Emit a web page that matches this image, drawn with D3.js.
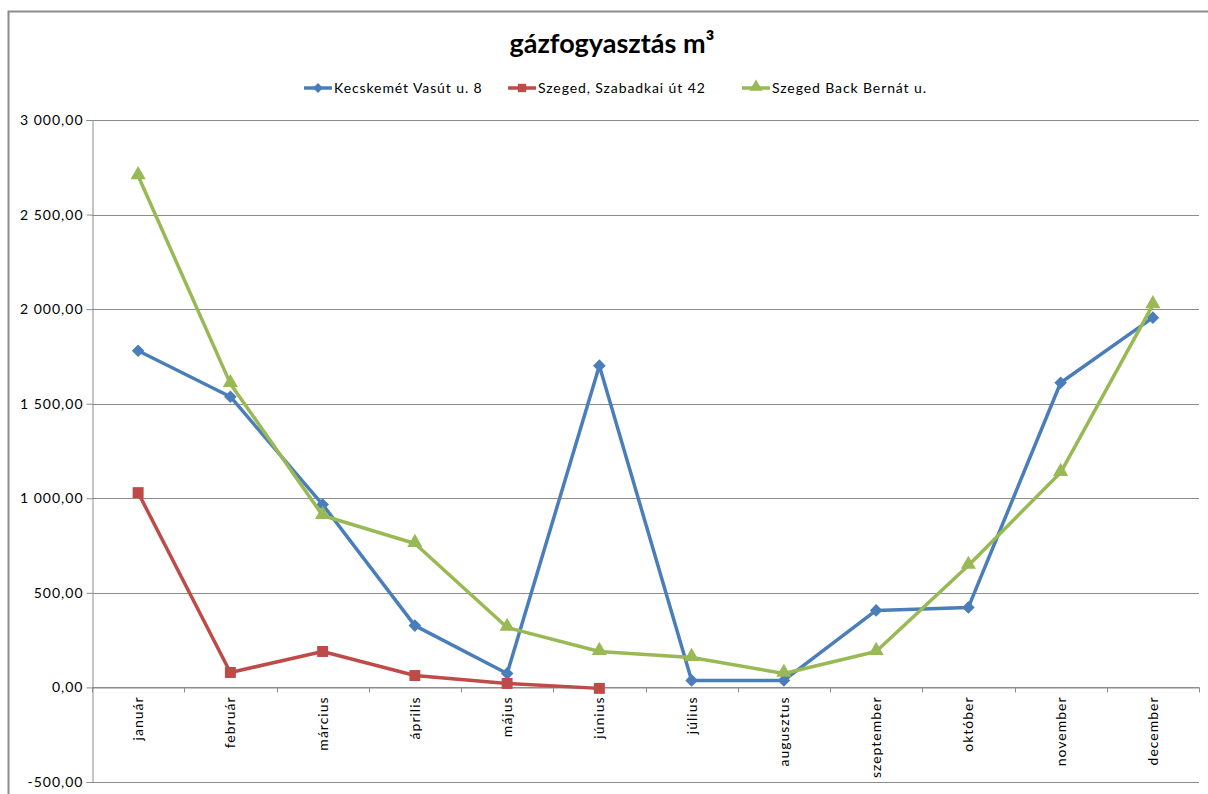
<!DOCTYPE html>
<html><head><meta charset="utf-8">
<script src="https://cdn.jsdelivr.net/npm/d3@7/dist/d3.min.js"></script>
<style>body{margin:0;background:#fff}svg{display:block}</style>
</head><body>
<script>
const months = ["január","február","március","április","május","június","július","augusztus","szeptember","október","november","december"];
const kecskemet = [1780,1537,967,327,74,1701,37,37,407,423,1611,1955];
const szabadkai = [1030,79,190,63,21,-5];
const backBernat = [2705,1606,909,761,317,190,158,74,190,645,1136,2023];
const yTicks = [-500,0,500,1000,1500,2000,2500,3000];
const seriesNames = ["Kecskemét Vasút u. 8","Szeged, Szabadkai út 42","Szeged Back Bernát u."];
const colors = ["#4a7ebb","#be4b48","#98b954"];

(function(){
const W=1208,H=794;
const svg=d3.select("body").append("svg").attr("width",W).attr("height",H);
const font="Lato, 'Open Sans', sans-serif";
svg.append("path").attr("d",`M8.5,${H} V11.5 H${W}`).attr("fill","none").attr("stroke","#8c8c8c").attr("stroke-width",2);

const pl=92,pr=1199,pt=120,pb=782;
const x=d3.scaleBand().domain(months).range([pl,pr]);
const y=d3.scaleLinear().domain([-500,3000]).range([pb,pt]);

const markers=[
  {type:d3.symbolSquare,size:80,rot:45,dy:0},
  {type:d3.symbolSquare,size:120,rot:0,dy:0},
  {type:d3.symbolTriangle,size:100,rot:0,dy:-1}
];
const legMarkers=[
  {type:d3.symbolSquare,size:50,rot:45,dy:0},
  {type:d3.symbolSquare,size:70,rot:0,dy:0},
  {type:d3.symbolTriangle,size:75,rot:0,dy:-1}
];

svg.append("g").selectAll("line").data(yTicks).join("line")
 .attr("x1",pl).attr("x2",pr).attr("y1",d=>Math.round(y(d))+0.5).attr("y2",d=>Math.round(y(d))+0.5)
 .attr("stroke","#8c8c8c").attr("stroke-width",1);

const yAx=svg.append("g").attr("transform",`translate(${pl+0.5},0)`)
 .call(d3.axisLeft(y).tickValues(yTicks).tickSize(6).tickPadding(3)
   .tickFormat(d=>d3.format(",.2f")(d).replace(/,/g," ").replace(".",",").replace("−","-")));
yAx.select(".domain").attr("stroke","#8c8c8c");
yAx.selectAll(".tick line").attr("stroke","#8c8c8c");
yAx.selectAll(".tick text").attr("font-family",font).attr("font-size",14).attr("letter-spacing",1).attr("fill","#000");

const xAx=svg.append("g").attr("transform",`translate(0,${Math.round(y(0))+0.5})`)
 .call(d3.axisBottom(x).tickSize(0).tickFormat(""));
xAx.select(".domain").attr("stroke","#8c8c8c");
svg.append("g").selectAll("line").data(d3.range(months.length+1)).join("line")
 .attr("x1",i=>Math.round(pl+i*x.step())+0.5).attr("x2",i=>Math.round(pl+i*x.step())+0.5)
 .attr("y1",y(0)).attr("y2",y(0)+5).attr("stroke","#8c8c8c");
svg.append("g").selectAll("text").data(months).join("text")
 .attr("transform",d=>`translate(${x(d)+x.bandwidth()/2+5},${y(0)+9}) rotate(-90)`)
 .attr("text-anchor","end").attr("font-family",font).attr("font-size",14).attr("letter-spacing",1).text(d=>d);

const all=[kecskemet,szabadkai,backBernat];
const line=d3.line().x((d,i)=>x(months[i])+x.bandwidth()/2).y(d=>y(d));
all.forEach((data,k)=>{
  const m=markers[k];
  svg.append("path").datum(data).attr("d",line).attr("fill","none")
    .attr("stroke",colors[k]).attr("stroke-width",3.5).attr("stroke-linejoin","round");
  svg.append("g").selectAll("path").data(data).join("path")
    .attr("transform",(d,i)=>`translate(${x(months[i])+x.bandwidth()/2},${y(d)+m.dy}) rotate(${m.rot})`)
    .attr("d",d3.symbol().type(m.type).size(m.size)).attr("fill",colors[k]);
});

svg.append("text").attr("x",612).attr("y",53).attr("text-anchor","middle")
 .attr("font-family",font).attr("font-weight","bold").attr("font-size",27).text("gázfogyasztás m³");

const legX=[304,508,742];
seriesNames.forEach((n,k)=>{
  const m=legMarkers[k];
  const g=svg.append("g").attr("transform",`translate(${legX[k]},88)`);
  g.append("line").attr("x1",0).attr("x2",28).attr("stroke",colors[k]).attr("stroke-width",3.5);
  g.append("path").attr("transform",`translate(14,${m.dy}) rotate(${m.rot})`).attr("d",d3.symbol().type(m.type).size(m.size)).attr("fill",colors[k]);
  g.append("text").attr("x",30).attr("y",5).attr("font-family",font).attr("font-size",14).attr("letter-spacing",0.9).text(n);
});
})();
</script>
</body></html>
